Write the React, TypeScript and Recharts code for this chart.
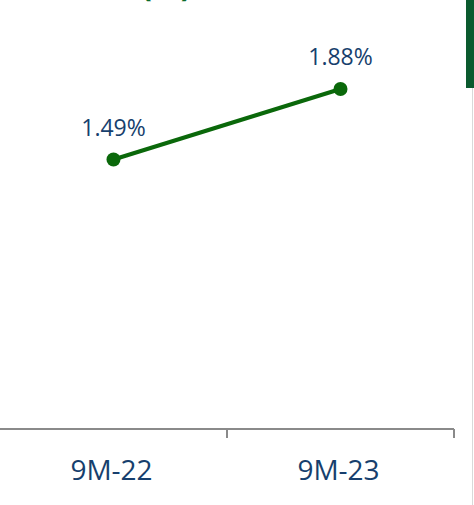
import React from "react";
import { LineChart, Line, XAxis, YAxis, LabelList } from "recharts";

const categories = ["9M-22", "9M-23"];
const ratioValues = [1.49, 1.88];
const valueLabels = ["1.49%", "1.88%"];

const data = categories.map((c, i) => ({ period: c, value: ratioValues[i], label: valueLabels[i] }));

const W = 474;
const H = 505;
const MARGIN = { top: 4, right: 20, left: 0, bottom: 0 };
const PLOT_W = W - MARGIN.left - MARGIN.right;
const HALF_BAND = PLOT_W / categories.length / 2;

const GREEN = "#0a680a";
const NAVY = "#173f6d";
const AXIS = "#8a8a8a";
const FONT = "'Open Sans', sans-serif";

const Tick = (props: any) => {
  const { x, y, payload } = props;
  return (
    <g>
      <line x1={x + HALF_BAND} y1={y} x2={x + HALF_BAND} y2={y + 9} stroke={AXIS} strokeWidth={2} />
      <text x={x - 2} y={y + 51} textAnchor="middle" fill={NAVY} fontSize={28} fontFamily={FONT}>
        {payload.value}
      </text>
    </g>
  );
};

export default function App() {
  return (
    <div style={{ position: "absolute", left: 0, top: 0, width: W, height: H, background: "#fff", overflow: "hidden" }}>
      <div
        style={{
          position: "absolute",
          left: 141,
          top: -32,
          fontFamily: FONT,
          fontWeight: 700,
          fontSize: 32,
          color: "#0b6a2a",
          lineHeight: "32px",
          whiteSpace: "nowrap",
        }}
      >
        (%)
      </div>
      <div style={{ position: "absolute", left: 466, top: 0, width: 8, height: 88, background: "#0b5a2e" }} />
      <div style={{ position: "absolute", left: 472, top: 88, width: 1, height: H - 88, background: "#d9d9d9" }} />
      <LineChart width={W} height={H} data={data} margin={MARGIN}>
        <XAxis
          dataKey="period"
          scale="band"
          axisLine={{ stroke: AXIS, strokeWidth: 2 }}
          tickLine={false}
          tickSize={0}
          tickMargin={0}
          height={76}
          tick={<Tick />}
          interval={0}
        />
        <YAxis hide domain={[0, 2.35]} />
        <Line
          dataKey="value"
          stroke={GREEN}
          strokeWidth={4}
          dot={{ r: 7, fill: GREEN, stroke: GREEN, strokeWidth: 0 }}
          activeDot={false}
          isAnimationActive={false}
        >
          <LabelList dataKey="label" position="top" offset={24} fill={NAVY} fontSize={23} fontFamily={FONT} />
        </Line>
      </LineChart>
    </div>
  );
}
